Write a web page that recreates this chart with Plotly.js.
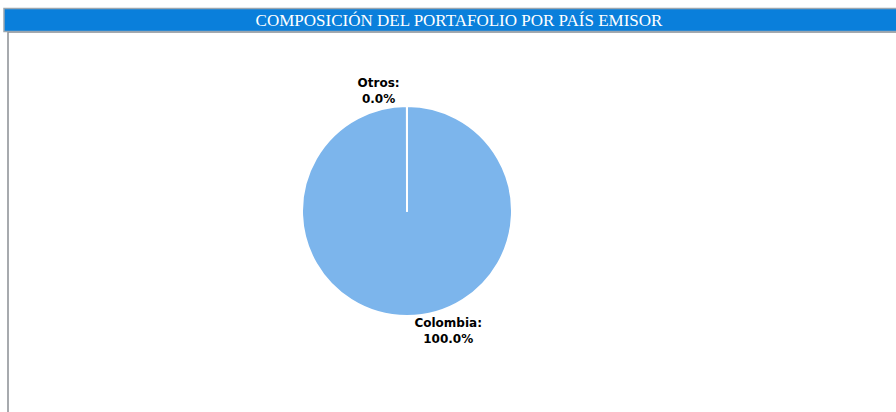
<!DOCTYPE html>
<html>
<head>
<meta charset="utf-8">
<script src="https://cdn.plot.ly/plotly-3.0.1.min.js"></script>
<style>
html,body{margin:0;padding:0;background:#fff;}
#chart{width:896px;height:412px;}
</style>
</head>
<body>
<div id="chart"></div>
<script>
const chartTitle = 'COMPOSICIÓN DEL PORTAFOLIO POR PAÍS EMISOR';
const countries = ['Colombia', 'Otros'];
const shares = [99.99, 0.01];
const sliceColors = ['#7cb5ec', '#434348'];

const W = 896, H = 412;
const px = v => v / W;
const py = v => 1 - v / H;

const data = [{
  type: 'pie',
  labels: countries,
  values: shares,
  sort: false,
  direction: 'clockwise',
  rotation: 0,
  marker: {colors: sliceColors, line: {color: '#ffffff', width: 2}},
  textposition: 'outside',
  texttemplate: '%{label}:<br>%{percent:.1%}',
  textfont: {family: 'DejaVu Sans', size: 12, color: '#000000', weight: 'bold'},
  showlegend: false,
  hoverinfo: 'label+percent',
  domain: {x: [px(202), px(612)], y: [py(316), py(106)]},
  automargin: false
}];

const layout = {
  width: W, height: H,
  margin: {l: 0, r: 0, t: 0, b: 0},
  paper_bgcolor: '#ffffff',
  plot_bgcolor: '#ffffff',
  showlegend: false,
  title: {
    text: chartTitle,
    x: px(459), xanchor: 'center',
    y: py(20.5), yanchor: 'middle',
    xref: 'paper', yref: 'paper',
    font: {family: 'Liberation Serif', size: 17, color: '#ffffff'}
  },
  shapes: [
    {type: 'rect', xref: 'paper', yref: 'paper', x0: px(8), x1: px(905), y0: py(420), y1: py(32),
     fillcolor: 'rgba(0,0,0,0)', line: {color: '#8a8f94', width: 1.5}, layer: 'below'},
    {type: 'rect', xref: 'paper', yref: 'paper', x0: px(4), x1: px(905), y0: py(31.5), y1: py(8.5),
     fillcolor: '#0a7fdb', line: {color: '#9aa6b0', width: 1.5}, layer: 'below'}
  ]
};

Plotly.newPlot('chart', data, layout, {displayModeBar: false, staticPlot: true});
</script>
</body>
</html>
